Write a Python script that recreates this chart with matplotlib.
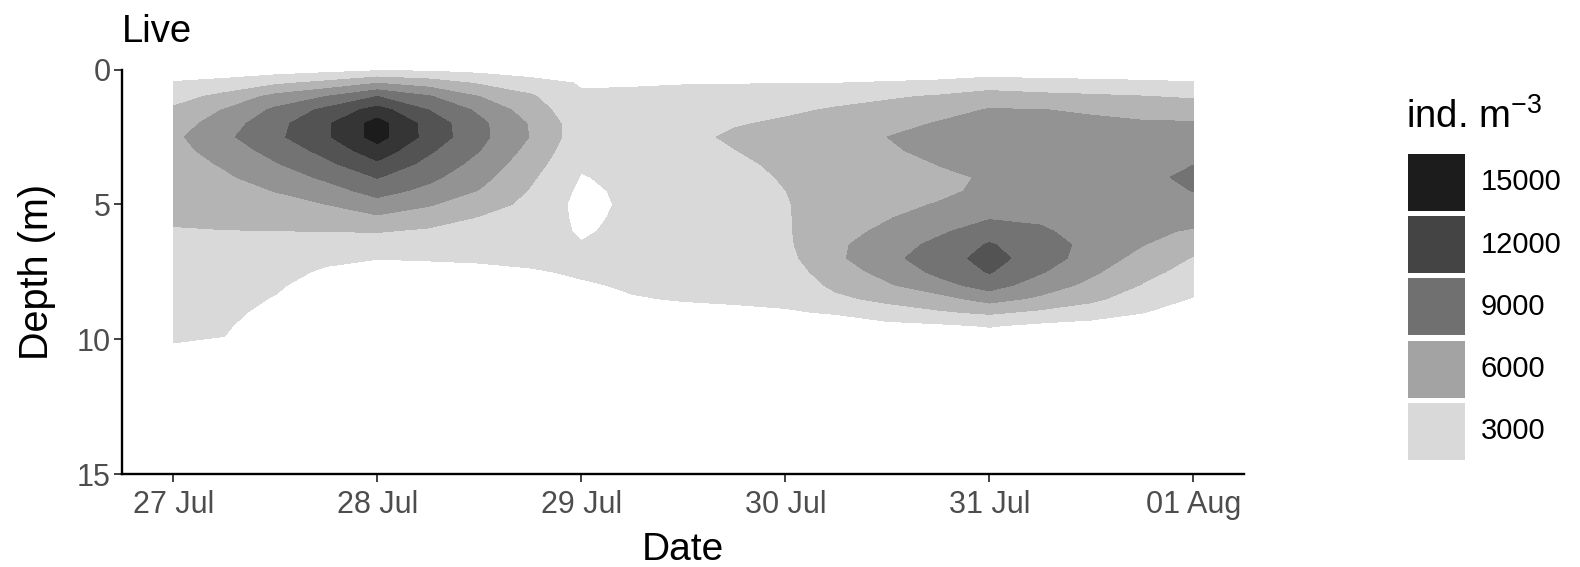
import matplotlib
matplotlib.use('Agg')
import matplotlib.pyplot as plt
import matplotlib.dates as mdates
from matplotlib.patches import Rectangle
import numpy as np

plt.rcParams['font.family'] = ['Liberation Sans', 'DejaVu Sans']
plt.rcParams['mathtext.fontset'] = 'custom'
plt.rcParams['mathtext.rm'] = 'Liberation Sans'

# ── data: abundance (ind. m-3) ────────────────────────────────────────────
START = '2019-07-27'
sample_days = [0.0, 0.25, 0.5, 0.75, 1.0, 1.25, 1.5, 1.75, 2.0, 2.25, 2.5,
               2.75, 3.0, 3.25, 3.5, 3.75, 4.0, 4.25, 4.5, 4.75, 5.0]
depths = [0.0, 0.5, 1.0, 1.5, 2.0, 2.5, 3.0, 3.5, 4.0, 4.5, 5.0,
          5.5, 6.0, 6.5, 7.0, 7.5, 8.0, 8.5, 9.0, 9.5, 10.0, 10.5]

# one profile (top -> bottom) per sample time
abundance = [
    [1950, 3120, 4280, 5280, 6010, 6550, 6320, 6085, 5850, 5620, 5380, 5150, 4917, 4685, 4454, 4222, 3991, 3760, 3528, 3296, 3065, 2833],
    [1730, 3650, 5510, 7106, 7990, 8565, 7890, 7215, 6696, 6250, 5804, 5357, 4950, 4700, 4450, 4200, 3950, 3700, 3450, 3200, 2950, 2700],
    [1919, 4620, 7571, 9380, 10330, 10558, 9702, 8839, 7946, 7054, 6347, 5653, 4975, 4555, 4134, 3714, 3294, 2874, 2450, 2030, 1610, 1200],
    [2226, 5519, 9000, 11476, 12667, 12702, 11638, 10529, 9353, 8176, 7000, 6000, 5000, 4231, 3462, 2692, 2000, 1700, 1500, 1300, 1100, 1000],
    [2600, 6920, 11000, 13809, 15800, 15800, 14182, 12656, 11081, 9730, 8258, 6656, 5094, 4050, 3040, 2500, 2100, 1800, 1500, 1300, 1100, 1000],
    [2586, 6034, 9182, 11000, 12200, 12311, 11332, 10405, 9505, 8450, 7200, 5865, 4717, 3929, 3142, 2400, 2000, 1700, 1500, 1300, 1100, 1000],
    [2317, 4756, 7000, 8613, 9483, 9547, 9041, 8352, 7648, 6914, 5839, 4877, 4318, 3760, 3201, 2640, 2200, 1900, 1600, 1400, 1200, 1000],
    [1846, 3769, 5277, 6046, 6815, 6929, 6387, 5845, 5303, 4857, 4532, 4208, 3883, 3558, 3234, 2909, 2600, 2300, 2000, 1700, 1500, 1300],
    [2000, 2860, 3180, 3500, 3800, 3820, 3530, 3230, 2900, 2600, 2400, 2600, 2800, 3080, 3250, 3120, 2900, 2600, 2300, 2000, 1700, 1400],
    [1800, 2930, 3150, 3400, 3600, 3650, 3580, 3500, 3430, 3390, 3372, 3400, 3450, 3480, 3400, 3240, 3100, 2950, 2700, 2400, 2100, 1800],
    [1800, 2950, 3300, 3700, 4100, 4300, 4000, 3800, 3700, 3650, 3650, 3700, 3700, 3650, 3550, 3400, 3250, 3050, 2800, 2500, 2200, 1900],
    [1800, 2956, 3400, 3900, 4800, 5380, 4950, 4500, 4200, 4000, 3900, 3900, 3900, 3850, 3750, 3600, 3400, 3150, 2800, 2500, 2200, 1900],
    [2000, 2980, 3800, 4600, 5350, 5900, 5800, 5500, 5200, 4980, 4850, 4800, 4750, 4650, 4400, 4000, 3600, 3250, 2900, 2550, 2200, 1900],
    [1900, 2970, 4200, 5230, 5800, 6300, 6200, 6000, 5900, 5950, 6100, 6300, 6500, 6650, 6650, 6100, 5450, 4600, 3100, 2500, 2100, 1800],
    [1600, 3160, 4770, 5600, 6300, 7000, 6750, 6550, 6300, 6500, 6700, 6900, 7300, 8050, 8400, 7620, 6750, 5500, 4060, 2500, 2000, 1700],
    [1500, 3420, 5170, 6220, 7140, 7700, 7500, 7030, 6800, 6750, 7060, 7760, 8640, 9500, 10110, 9470, 8280, 6280, 4760, 2700, 2000, 1700],
    [1800, 3920, 5830, 7140, 7570, 8000, 7790, 7500, 7100, 7250, 8100, 8840, 10030, 11180, 11650, 11150, 9830, 7780, 5340, 3130, 2000, 1600],
    [1700, 3650, 5510, 7040, 7360, 7680, 8000, 8070, 8130, 8200, 8490, 8790, 9180, 9800, 10120, 9200, 8030, 6640, 4630, 2600, 2000, 1600],
    [1700, 3510, 5280, 6820, 7280, 7590, 7900, 8100, 8300, 8350, 8400, 8450, 8500, 8500, 7980, 7340, 6490, 5430, 3970, 2300, 2000, 1600],
    [1600, 3340, 5050, 6420, 7180, 7500, 7810, 8120, 8440, 8260, 7960, 7660, 7360, 7060, 6400, 5660, 4890, 3970, 3050, 2300, 1900, 1600],
    [1550, 3160, 4770, 6080, 7160, 7750, 8350, 8950, 9470, 9040, 8310, 7590, 6820, 5810, 4870, 4210, 3540, 2900, 2400, 2000, 1700, 1400],
]

levels = [3000, 5000, 7000, 9000, 11000, 13000, 15000, 20000]
band_colors = ['#d9d9d9', '#b4b4b4', '#939393', '#737373', '#535353', '#353535', '#1c1c1c']

legend_breaks = [15000, 12000, 9000, 6000, 3000]
legend_colors = ['#1c1c1c', '#444444', '#707070', '#a3a3a3', '#d9d9d9']

date_ticks = ['2019-07-27', '2019-07-28', '2019-07-29', '2019-07-30',
              '2019-07-31', '2019-08-01']
depth_ticks = [0, 5, 10, 15]

W, H = 1580, 567
fig = plt.figure(figsize=(W / 100, H / 100), dpi=100)
fig.patch.set_facecolor('white')

# panel in pixel terms
px_l, px_t, px_r, px_b = 122.3, 69.5, 1244.3, 474.0
ax = fig.add_axes([px_l / W, 1 - px_b / H, (px_r - px_l) / W, (px_b - px_t) / H])

t0 = mdates.datestr2num(START)
x = t0 + np.array(sample_days)
Z = np.array(abundance).T
ax.contourf(x, depths, Z, levels=levels, colors=band_colors)

ax.set_xlim(t0 - 0.25, t0 + 5.25)
ax.set_ylim(15, 0)
ax.set_yticks(depth_ticks)
ax.set_xticks([mdates.datestr2num(d) for d in date_ticks])
ax.xaxis.set_major_formatter(mdates.DateFormatter('%d %b'))

for s in ('top', 'right'):
    ax.spines[s].set_visible(False)
for s in ('left', 'bottom'):
    ax.spines[s].set_linewidth(1.7)
    ax.spines[s].set_color('black')
ax.tick_params(length=5.5, width=1.3, color='#333333', labelsize=22,
               labelcolor='#4d4d4d')
ax.tick_params(axis='x', pad=6)
ax.tick_params(axis='y', pad=3)

ax.set_xlabel('Date', fontsize=28, labelpad=9)
ax.set_ylabel('Depth (m)', fontsize=28.5, labelpad=15)
ax.set_title('Live', loc='left', fontsize=27.5, pad=20)

# ── legend drawn in pixel space ──────────────────────────────────────────
lg = fig.add_axes([0, 0, 1, 1], facecolor='none')
lg.set_xlim(0, W)
lg.set_ylim(H, 0)
lg.axis('off')
lg.text(1406, 128, r'ind. m$^{-3}$', fontsize=27.5, va='baseline', ha='left')
for i, (b, c) in enumerate(zip(legend_breaks, legend_colors)):
    y0 = 154 + i * 62.2
    lg.add_patch(Rectangle((1408, y0), 56.5, 57, facecolor=c, edgecolor='none'))
    lg.text(1481, y0 + 28.5, f'{b}', fontsize=21, va='center', ha='left')

fig.savefig('out.png', dpi=100)
